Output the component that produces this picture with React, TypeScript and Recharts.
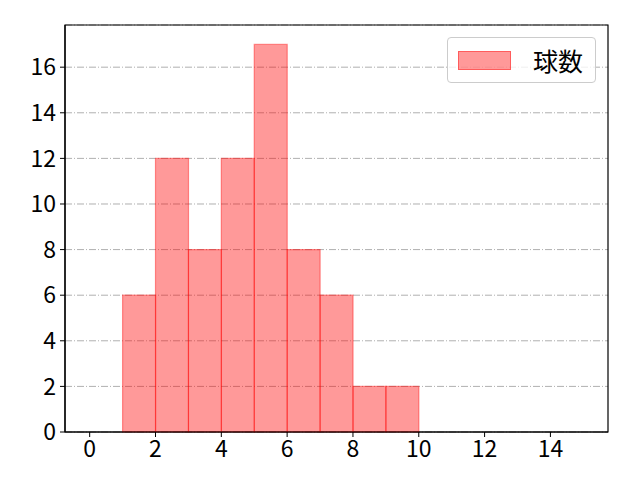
import { ComposedChart, Bar, XAxis, YAxis, CartesianGrid, Legend, ReferenceArea } from "recharts";

// histogram bins (left edge, width 1) and counts
const binStarts = [1, 2, 3, 4, 5, 6, 7, 8, 9];
const counts = [6, 12, 8, 12, 17, 8, 6, 2, 2];
const xTicks = [0, 2, 4, 6, 8, 10, 12, 14];
const yTicks = [0, 2, 4, 6, 8, 10, 12, 14, 16];
const xDomain = [-0.75, 15.75];
const yDomain = [0, 17.85];
const seriesName = "球数";

const data = binStarts.map((s, i) => ({ x: s + 0.5, count: counts[i] }));

const FONT = "'Noto Sans CJK JP', 'Noto Sans', sans-serif";

function LegendBox({ payload }: { payload?: { value: string }[] }) {
  if (!payload?.length) return null;
  return (
    <div
      style={{
        width: 149,
        height: 46,
        border: "1px solid #cccccc",
        borderRadius: 4,
        background: "rgba(255,255,255,0.8)",
        display: "flex",
        alignItems: "center",
        boxSizing: "border-box",
        fontFamily: FONT,
      }}
    >
      {payload.map((p) => (
        <div key={p.value} style={{ display: "flex", alignItems: "center" }}>
          <span
            style={{
              display: "inline-block",
              width: 53,
              height: 19,
              marginLeft: 10,
              background: "rgba(255,0,0,0.4)",
              border: "1px solid rgba(255,0,0,0.4)",
              boxSizing: "border-box",
            }}
          />
          <span style={{ fontSize: 25, marginLeft: 22, color: "#000", lineHeight: 1 }}>{p.value}</span>
        </div>
      ))}
    </div>
  );
}

export default function App() {
  return (
    <div style={{ width: 640, height: 480, background: "#fff", position: "relative" }}>
      <style>{`body{margin:0}`}</style>
      <ComposedChart
        width={640}
        height={480}
        data={data}
        margin={{ top: 25, right: 32, bottom: 0, left: 0 }}
        barCategoryGap={0}
        barGap={0}
      >
        <CartesianGrid
          vertical={false}
          stroke="#b0b0b0"
          strokeWidth={1}
          strokeDasharray="7 2 1 2"
        />
        <XAxis
          dataKey="x"
          type="number"
          domain={xDomain}
          ticks={xTicks}
          interval={0}
          height={48}
          tickSize={5}
          tickMargin={4}
          axisLine={{ stroke: "#000", strokeWidth: 1.2 }}
          tickLine={{ stroke: "#000", strokeWidth: 1 }}
          tick={{ fill: "#000", fontSize: 23, fontFamily: FONT }}
        />
        <YAxis
          type="number"
          domain={yDomain}
          ticks={yTicks}
          interval={0}
          width={65}
          tickSize={5}
          tickMargin={4}
          axisLine={{ stroke: "#000", strokeWidth: 1.2 }}
          tickLine={{ stroke: "#000", strokeWidth: 1 }}
          tick={{ fill: "#000", fontSize: 23, fontFamily: FONT }}
        />
        <Bar
          dataKey="count"
          name={seriesName}
          fill="#ff0000"
          fillOpacity={0.4}
          stroke="#ff0000"
          strokeOpacity={0.4}
          strokeWidth={1.2}
          isAnimationActive={false}
        />
        {/* axes frame (top/right spines) */}
        <ReferenceArea
          x1={xDomain[0]}
          x2={xDomain[1]}
          y1={yDomain[0]}
          y2={yDomain[1]}
          fill="none"
          stroke="#000"
          strokeWidth={1.2}
          ifOverflow="visible"
        />
        <Legend
          layout="horizontal"
          verticalAlign="middle"
          align="center"
          wrapperStyle={{ position: "absolute", top: 37, left: 447, width: 149, height: 46 }}
          content={(props: any) => <LegendBox payload={props.payload} />}
        />
      </ComposedChart>
    </div>
  );
}
